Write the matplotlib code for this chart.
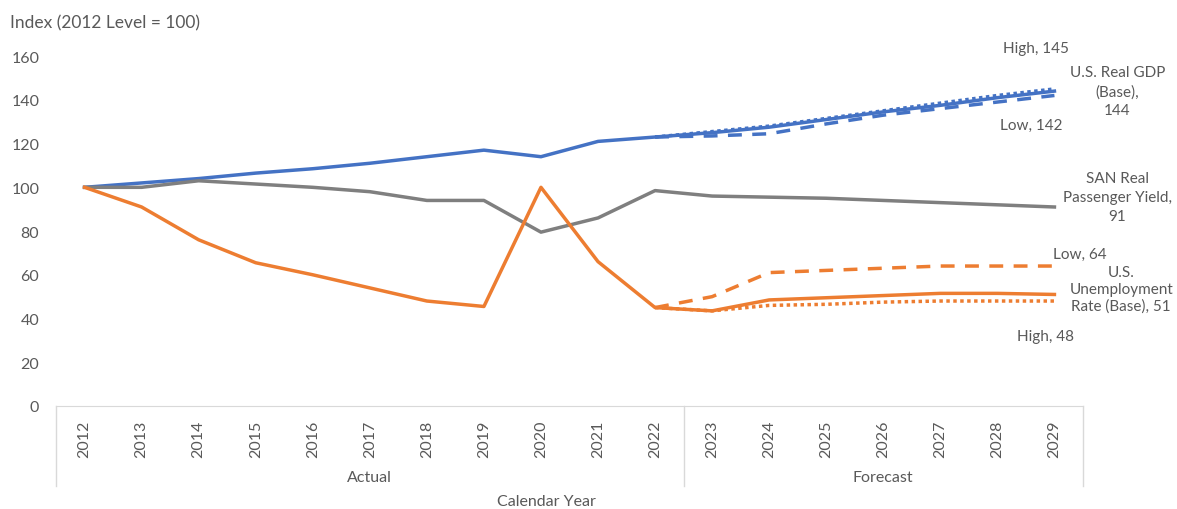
import matplotlib.pyplot as plt
import matplotlib.transforms as mtransforms
import numpy as np

plt.rcParams['font.family'] = ['Lato', 'DejaVu Sans']

# Data
years = [str(y) for y in range(2012, 2030)]
gdp_base = [100, 102, 104, 106.5, 108.5, 111, 114, 117, 114, 121, 123, 125, 127.5, 131, 134.5, 137.5, 141, 144]
gdp_high = [None]*10 + [123, 125.5, 128, 131.5, 135, 138.5, 142, 145]
gdp_low = [None]*10 + [123, 123.5, 124.5, 129, 133, 136, 139, 142]
yield_san = [100, 100, 103, 101.5, 100, 98, 94, 94, 79.5, 86, 98.5, 96, 95.5, 95, 94, 93, 92, 91]
unemp_base = [100, 91, 76, 65.5, 60, 54, 48, 45.5, 100, 66, 45, 43.5, 48.5, 49.5, 50.5, 51.5, 51.5, 51]
unemp_low = [None]*10 + [45, 50, 61, 62, 63, 64, 64, 64]
unemp_high = [None]*10 + [45, 43.5, 46, 46.5, 47.5, 48, 48, 48]
groups = ["Actual", "Forecast"]
group_sizes = [11, 7]

blue = '#4472C4'
orange = '#ED7D31'
gray = '#7F7F7F'
txt = '#595959'

def arr(v):
    return np.array([np.nan if a is None else a for a in v], dtype=float)

fig = plt.figure(figsize=(11.77, 5.10), dpi=100)
ax = fig.add_axes([0.0476, 0.202, 0.8725, 0.686])
x = np.arange(len(years))
lw = 2.5

ax.plot(x, arr(gdp_high), color=blue, lw=lw, ls=(0, (1, 1)))
ax.plot(x, arr(gdp_low), color=blue, lw=lw, ls=(0, (4, 3)))
ax.plot(x, gdp_base, color=blue, lw=lw)
ax.plot(x, yield_san, color=gray, lw=lw)
ax.plot(x, arr(unemp_low), color=orange, lw=lw, ls=(0, (4, 3)))
ax.plot(x, arr(unemp_high), color=orange, lw=lw, ls=(0, (1, 1)))
ax.plot(x, unemp_base, color=orange, lw=lw)

ax.set_xlim(-0.5, len(years) - 0.5)
ax.set_ylim(0, 160)
ax.set_yticks(range(0, 161, 20))
ax.set_xticks(x)
ax.set_xticklabels(years, rotation=90, fontsize=11, color=txt)
ax.tick_params(axis='both', length=0, colors=txt, labelsize=11.5)
ax.tick_params(axis='y', pad=12)
ax.tick_params(axis='x', pad=10)
for s in ['left', 'right', 'top']:
    ax.spines[s].set_visible(False)
ax.spines['bottom'].set_color('#D9D9D9')

# group separators and labels
tr = mtransforms.blended_transform_factory(ax.transData, ax.transAxes)
edges = np.concatenate([[0], np.cumsum(group_sizes)]) - 0.5
for e in edges:
    ax.plot([e, e], [0, -0.228], transform=tr, color='#D9D9D9', lw=1, clip_on=False)
for i, g in enumerate(groups):
    ax.text((edges[i] + edges[i+1]) / 2, -0.202, g, transform=tr, ha='center', va='center',
            fontsize=11.5, color=txt)
ax.text(8.1, -0.272, "Calendar Year", transform=tr, ha='center', va='center', fontsize=11.5, color=txt)

fig.text(0.0085, 0.955, "Index (2012 Level = 100)", fontsize=12.5, color=txt, va='center')

# data labels
lab = dict(fontsize=11, color=txt, ha='center', va='center', clip_on=False)
ax.text(16.67, 163.5, "High, 145", **lab)
ax.text(18.1, 144, "U.S. Real GDP\n(Base),\n144", linespacing=1.45, **lab)
ax.text(16.6, 128.5, "Low, 142", **lab)
ax.text(18.1, 95.5, "SAN Real\nPassenger Yield,\n91", linespacing=1.45, **lab)
ax.text(17.45, 69.5, "Low, 64", **lab)
ax.text(18.17, 53.5, "U.S.\nUnemployment\nRate (Base), 51", linespacing=1.25, **lab)
ax.text(16.85, 32, "High, 48", **lab)

fig.savefig('out.png', dpi=100)
